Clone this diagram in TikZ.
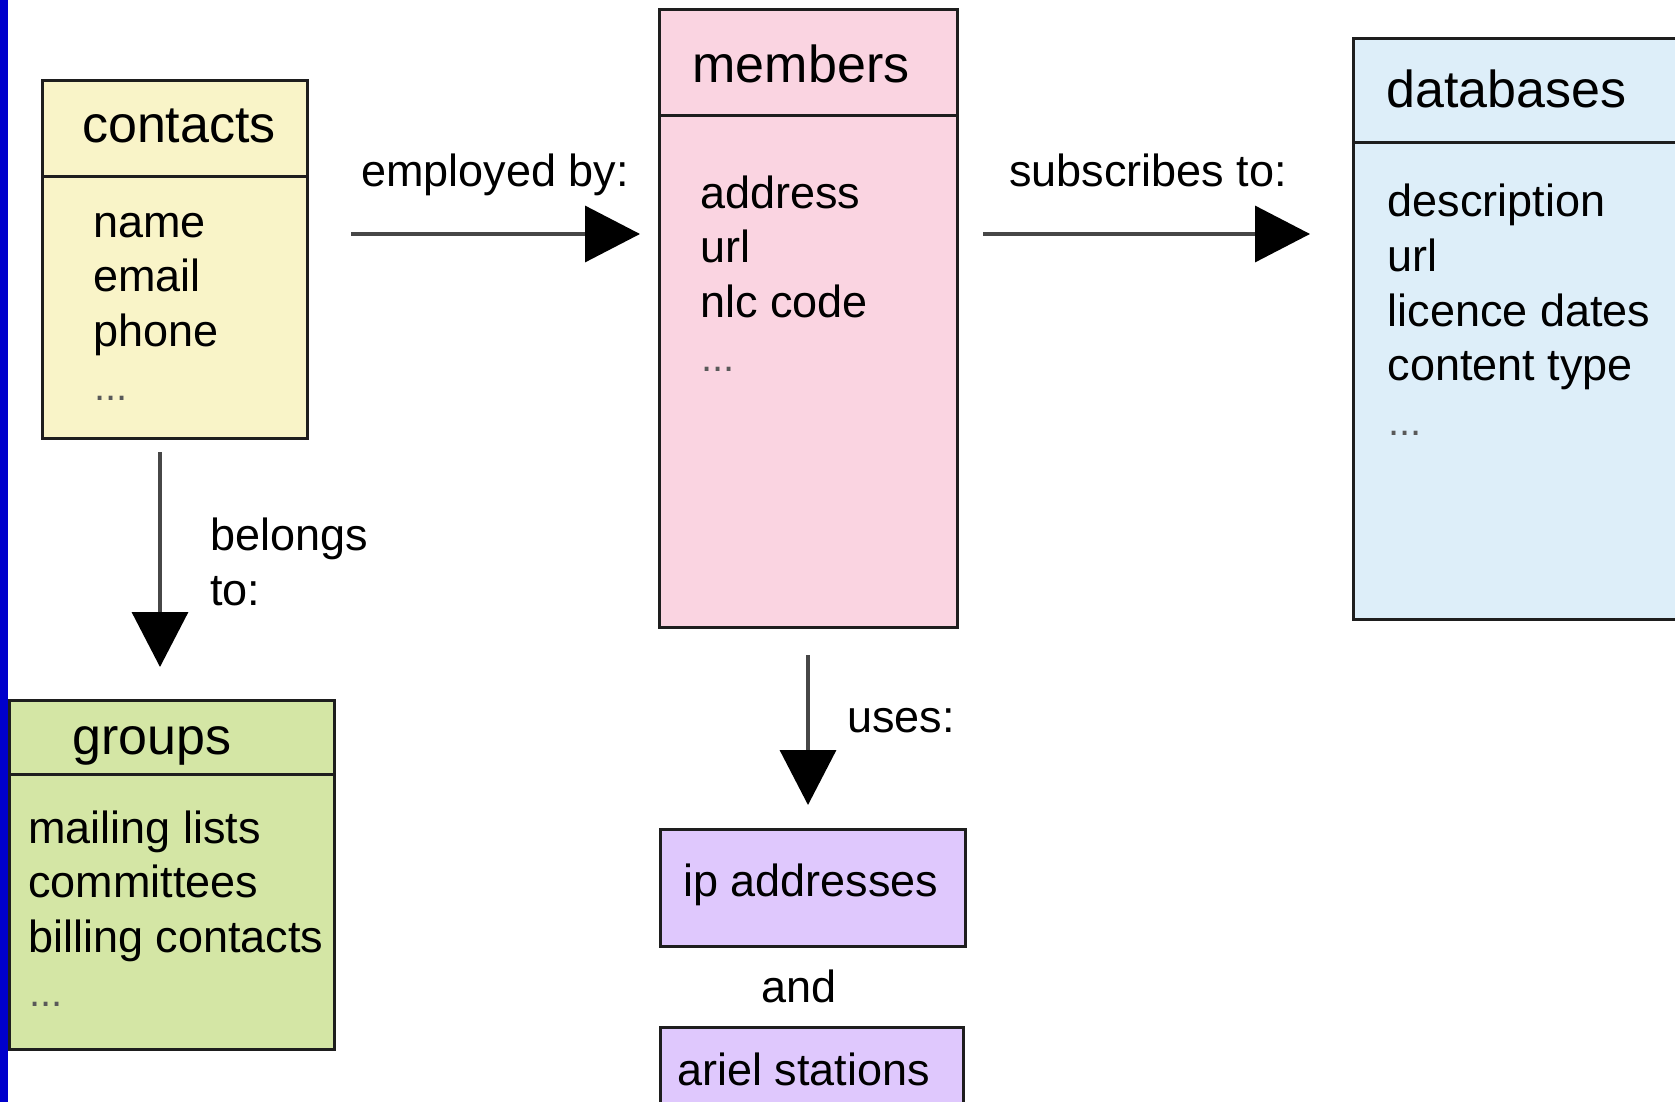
\documentclass[tikz,border=0pt]{standalone}
\usepackage{fontspec}
\setmainfont{Liberation Sans}
\usetikzlibrary{arrows.meta}
\definecolor{cyellow}{HTML}{F9F4C8}
\definecolor{cpink}{HTML}{FAD4E1}
\definecolor{cblue}{HTML}{DDEEF9}
\definecolor{cgreen}{HTML}{D4E6A5}
\definecolor{cpurple}{HTML}{DFC8FD}
\definecolor{cbar}{HTML}{0000CC}
\definecolor{cline}{HTML}{1E1E1E}
\tikzset{
  boxshape/.style={draw=cline, line width=3pt, rectangle, inner sep=0pt, outer sep=0pt, anchor=north west},
  divider/.style={draw=cline, line width=3pt},
  titletext/.style={inner sep=0pt, anchor=base, font=\fontsize{52}{62}\selectfont},
  itemtext/.style={inner sep=0pt, anchor=base west, font=\fontsize{45}{54}\selectfont},
  dotstext/.style={itemtext, text=black!65, font=\fontsize{40}{54}\selectfont},
  labeltext/.style={inner sep=0pt, font=\fontsize{45}{54}\selectfont},
  conn/.style={draw=black!72, line width=3.5pt, -{Triangle[length=55pt,width=56pt,color=black]}}
}
\begin{document}
\begin{tikzpicture}[x=1pt,y=-1pt]
\useasboundingbox (0,0) rectangle (1675,1102);
\clip (0,0) rectangle (1675,1102);
\fill[white] (0,0) rectangle (1675,1102);
\fill[cbar] (0,0) rectangle (8,1102);

% contacts
\node[boxshape, fill=cyellow, minimum width=265pt, minimum height=357pt] (contacts) at (42,81) {};
\draw[divider] (contacts.west |- 0,177) -- (contacts.east |- 0,177);
\node[titletext] (contactsT) at (179,143) {contacts};
\node[itemtext] (c1) at (93,237) {name};
\node[itemtext] (c2) at (93,291.5) {email};
\node[itemtext] (c3) at (93,346) {phone};
\node[dotstext] (c4) at (94,400.5) {...};

% members
\node[boxshape, fill=cpink, minimum width=298pt, minimum height=617pt] (members) at (659,10) {};
\draw[divider] (members.west |- 0,116) -- (members.east |- 0,116);
\node[titletext] (membersT) at (801,83) {members};
\node[itemtext] (m1) at (700,208) {address};
\node[itemtext] (m2) at (700,262.5) {url};
\node[itemtext] (m3) at (700,317) {nlc code};
\node[dotstext] (m4) at (701,371.5) {...};

% databases
\node[boxshape, fill=cblue, minimum width=400pt, minimum height=580pt] (databases) at (1353,39) {};
\draw[divider] (databases.west |- 0,143) -- (databases.east |- 0,143);
\node[titletext, anchor=base west] (databasesT) at (1386.5,108) {databases};
\node[itemtext] (d1) at (1387.5,217) {description};
\node[itemtext] (d2) at (1387.5,271.5) {url};
\node[itemtext] (d3) at (1387.5,326) {licence dates};
\node[itemtext] (d4) at (1387.5,380.5) {content type};
\node[dotstext] (d5) at (1388.5,435) {...};

% groups
\node[boxshape, fill=cgreen, minimum width=324.5pt, minimum height=349.5pt] (groups) at (9.5,700) {};
\draw[divider] (groups.west |- 0,774) -- (groups.east |- 0,774);
\node[titletext] (groupsT) at (152,754) {groups};
\node[itemtext] (g1) at (28,843) {mailing lists};
\node[itemtext] (g2) at (28,897.5) {committees};
\node[itemtext] (g3) at (28,952) {billing contacts};
\node[dotstext] (g4) at (29,1006.5) {...};

% ip addresses and ariel stations
\node[boxshape, fill=cpurple, minimum width=305pt, minimum height=117pt] (ip) at (660,829) {};
\node[itemtext, anchor=base] (ipT) at (811,896) {ip addresses};
\node[labeltext, anchor=base] (andT) at (799,1002) {and};
\node[boxshape, fill=cpurple, minimum width=303pt, minimum height=117pt] (ariel) at (660,1027) {};
\node[itemtext] (arielT) at (677,1085) {ariel stations};

% connectors
\coordinate (row) at (0,234);
\coordinate (colB) at (160,0);
\coordinate (colU) at (808,0);
\draw[conn, shorten <=44pt, shorten >=19pt] (contacts.east |- row) -- (members.west |- row);
\draw[conn, shorten <=26pt, shorten >=43pt] (members.east |- row) -- (databases.west |- row);
\draw[conn, shorten <=14pt, shorten >=33pt] (contacts.south -| colB) -- (groups.north -| colB);
\draw[conn, shorten <=28pt, shorten >=24pt] (members.south -| colU) -- (ip.north -| colU);

% connector labels
\node[labeltext, anchor=base] (empL) at (495,187) {employed by:};
\node[labeltext, anchor=base] (subL) at (1148,187) {subscribes to:};
\node[labeltext, anchor=base west] (belL1) at (210,550) {belongs};
\node[labeltext, anchor=base west] (belL2) at (210,605) {to:};
\node[labeltext, anchor=base west] (usesL) at (847,732) {uses:};
\end{tikzpicture}
\end{document}
